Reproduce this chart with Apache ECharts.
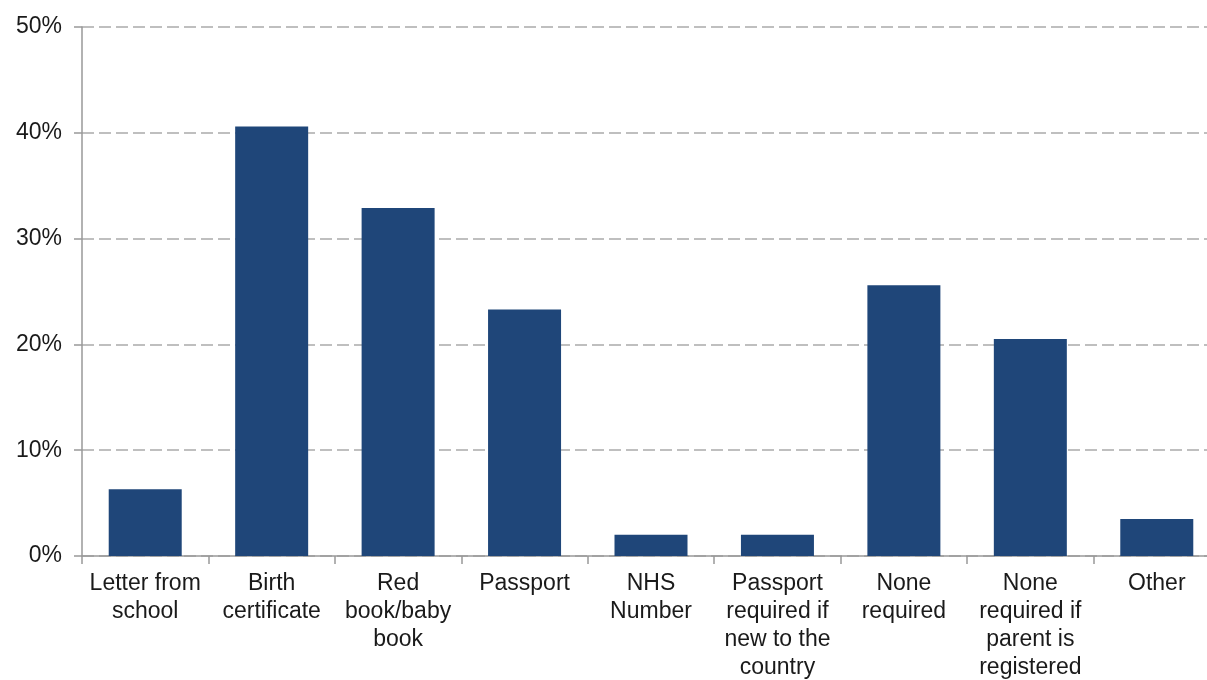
<!DOCTYPE html>
<html>
<head>
<meta charset="utf-8">
<script src="https://cdn.jsdelivr.net/npm/echarts@6/dist/echarts.min.js"></script>
<style>
html,body{margin:0;padding:0;background:#fff;}
#chart{width:1207px;height:680px;}
</style>
</head>
<body>
<div id="chart"></div>
<script>
const categories = [
  "Letter from\nschool",
  "Birth\ncertificate",
  "Red\nbook/baby\nbook",
  "Passport",
  "NHS\nNumber",
  "Passport\nrequired if\nnew to the\ncountry",
  "None\nrequired",
  "None\nrequired if\nparent is\nregistered",
  "Other"
];
const values = [6.3, 40.6, 32.9, 23.3, 2.0, 2.0, 25.6, 20.5, 3.5];
const yTicks = [0, 10, 20, 30, 40, 50];

const chart = echarts.init(document.getElementById('chart'));
chart.setOption({
  animation: false,
  grid: { left: 82, top: 27, right: -13, height: 529, containLabel: false, outerBoundsMode: 'none' },
  xAxis: {
    type: 'category',
    data: categories,
    boundaryGap: true,
    axisLine: { lineStyle: { color: '#999', width: 1.5 } },
    axisTick: { show: true, length: 8, lineStyle: { color: '#999', width: 1.5 } },
    axisLabel: {
      interval: 0,
      color: '#1a1a1a',
      fontFamily: 'Liberation Sans, Arial, sans-serif',
      fontSize: 23,
      lineHeight: 28,
      margin: 14
    }
  },
  yAxis: {
    type: 'value',
    min: yTicks[0],
    max: yTicks[yTicks.length - 1],
    interval: 10,
    axisLine: { show: true, lineStyle: { color: '#999', width: 1.5 } },
    axisTick: { show: true, length: 8, lineStyle: { color: '#999', width: 1.5 } },
    axisLabel: {
      color: '#1a1a1a',
      fontFamily: 'Liberation Sans, Arial, sans-serif',
      fontSize: 23,
      margin: 20,
      formatter: v => v + '%'
    },
    splitLine: { show: true, lineStyle: { color: '#aaa', type: [12, 5], width: 1.5 } }
  },
  series: [{
    type: 'bar',
    data: values,
    barWidth: 73,
    itemStyle: { color: '#1f4679' }
  }]
});
</script>
</body>
</html>
